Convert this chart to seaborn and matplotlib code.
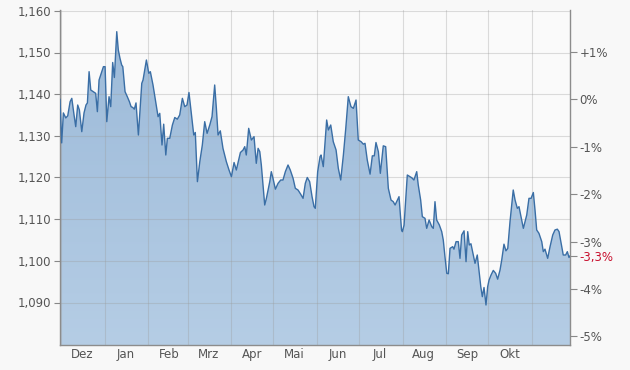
import numpy as np
import pandas as pd
import matplotlib
matplotlib.use("Agg")
import matplotlib.pyplot as plt
import matplotlib.dates as mdates
from matplotlib.colors import LinearSegmentedColormap
import seaborn as sns

sns.set_theme(style="white")
plt.rcParams["font.family"] = ["DejaVu Sans"]

# ---------------- data ----------------
start_date = "2018-11-28"
day_offset = [
    2.1, 3.3, 4.5, 6.2, 7.6, 9.3, 10.5, 12.1, 13.3, 14.7, 15.9, 17.6, 19.2, 20.6, 21.6, 22.8,
    24.0, 25.8, 27.5, 28.7, 29.9, 31.8, 33.0, 34.2, 35.4, 37.0, 38.2, 39.6, 40.8, 42.5, 43.6,
    44.8, 46.0, 46.8, 48.4, 50.0, 51.5, 52.7, 53.9, 55.0, 56.2, 57.9, 60.3,
    61.2, 63.6, 65.3, 66.4, 68.3, 70.2, 71.9, 73.1, 74.7, 75.9, 77.4, 78.5, 80.2, 82.1, 83.8,
    85.6, 87.3, 89.2, 90.9, 92.5, 93.9, 95.6, 97.3, 98.4, 99.9, 101.6, 103.4, 105.1, 106.8,
    108.7, 110.3, 112.2, 113.4, 114.6, 116.2, 118.1, 120.5, 122.4, 124.1,
    126.0, 127.6, 130.5, 132.4, 133.6, 134.7, 136.4, 138.3, 140.2, 141.8, 143.1, 144.3, 145.4,
    147.8, 149.0, 151.4, 152.5, 153.7, 155.4, 157.3, 159.2, 160.8, 162.5, 164.4, 166.0, 168.0,
    169.6, 171.5, 173.4, 175.1, 176.7, 178.1, 179.8, 181.5, 182.9, 183.8,
    185.5, 187.2, 187.9, 189.5, 191.9, 193.1, 194.8, 196.6, 198.6, 200.2, 201.9, 203.8, 205.5,
    207.3, 209.2, 210.9, 212.8, 214.4, 216.4, 218.0, 219.2, 220.8, 222.8, 224.4, 225.8, 227.0,
    228.7, 230.1, 232.2, 233.9, 235.8, 237.7, 239.3, 240.6, 242.5, 243.4, 245.2, 245.8, 247.0,
    249.3, 251.2, 252.6, 254.0, 256.0, 257.1, 258.8, 260.0, 261.9, 263.1, 264.8, 266.7, 267.8,
    269.0, 270.2, 272.1, 273.8, 274.9, 276.1, 277.4, 278.5, 279.7, 281.6, 282.5, 284.0, 285.6,
    286.8, 288.0, 289.7, 291.1, 292.3, 293.4, 294.6, 296.3, 297.5, 299.1, 300.3, 301.6, 302.7,
    303.9, 305.3,
    306.5, 307.5, 308.9, 310.5, 312.2, 313.6, 315.3, 316.5, 318.1, 319.5, 320.8, 322.4, 323.6,
    324.7, 326.0, 327.6, 328.8, 330.2, 331.9, 333.1, 334.3, 335.9, 337.4, 339.0, 340.2, 341.4,
    343.0, 345.0, 346.1, 347.3, 349.2, 350.9, 352.8, 354.4, 356.1, 357.3, 359.2, 360.3, 362.0,
    363.2, 364.4, 365.1,
]
rate = [
    1.1388, 1.1283, 1.1355, 1.1343, 1.1348, 1.1382, 1.1390, 1.1350, 1.1322, 1.1374, 1.1362,
    1.1310, 1.1355, 1.1374, 1.1379, 1.1454, 1.1410, 1.1406, 1.1402, 1.1358, 1.1434, 1.1454,
    1.1466, 1.1466, 1.1334, 1.1394, 1.1370, 1.1476, 1.1440, 1.1550, 1.1506, 1.1486, 1.1470,
    1.1466, 1.1406, 1.1394, 1.1382, 1.1370, 1.1368, 1.1364, 1.1379, 1.1302, 1.1426,
    1.1434, 1.1482, 1.1450, 1.1454, 1.1422, 1.1382, 1.1346, 1.1354, 1.1278, 1.1328, 1.1254,
    1.1294, 1.1294, 1.1326, 1.1344, 1.1340, 1.1350, 1.1390, 1.1370, 1.1374, 1.1404, 1.1354,
    1.1302, 1.1308, 1.1190, 1.1238, 1.1278, 1.1334, 1.1306, 1.1326, 1.1346, 1.1422, 1.1366,
    1.1302, 1.1312, 1.1270, 1.1238, 1.1218, 1.1202,
    1.1236, 1.1218, 1.1260, 1.1266, 1.1274, 1.1254, 1.1318, 1.1290, 1.1298, 1.1234, 1.1270,
    1.1262, 1.1230, 1.1134, 1.1150, 1.1190, 1.1214, 1.1198, 1.1172, 1.1186, 1.1194, 1.1194,
    1.1214, 1.1230, 1.1218, 1.1198, 1.1174, 1.1170, 1.1160, 1.1150, 1.1186, 1.1200, 1.1190,
    1.1154, 1.1130, 1.1126,
    1.1214, 1.1250, 1.1254, 1.1226, 1.1338, 1.1314, 1.1326, 1.1286, 1.1266, 1.1222, 1.1194,
    1.1254, 1.1318, 1.1394, 1.1370, 1.1366, 1.1386, 1.1290, 1.1286, 1.1280, 1.1282, 1.1242,
    1.1208, 1.1252, 1.1252, 1.1284, 1.1262, 1.1210, 1.1276, 1.1274, 1.1174, 1.1146, 1.1142,
    1.1134, 1.1148, 1.1154, 1.1074, 1.1070, 1.1086,
    1.1206, 1.1202, 1.1199, 1.1194, 1.1214, 1.1182, 1.1146, 1.1106, 1.1102, 1.1078, 1.1098,
    1.1082, 1.1078, 1.1142, 1.1098, 1.1086, 1.1070, 1.1050, 1.1010, 1.0970, 1.0969, 1.1030,
    1.1034, 1.1028, 1.1046, 1.1046, 1.1006, 1.1062, 1.1072, 1.0998, 1.1070, 1.1038, 1.1041,
    1.1014, 1.0994, 1.1014, 1.0978, 1.0938, 1.0914, 1.0936, 1.0894,
    1.0938, 1.0954, 1.0966, 1.0977, 1.0970, 1.0956, 1.0978, 1.1002, 1.1040, 1.1024, 1.1030,
    1.1094, 1.1134, 1.1170, 1.1146, 1.1126, 1.1130, 1.1106, 1.1078, 1.1094, 1.1110, 1.1150,
    1.1150, 1.1164, 1.1122, 1.1074, 1.1066, 1.1046, 1.1022, 1.1028, 1.1006, 1.1034, 1.1062,
    1.1074, 1.1076, 1.1070, 1.1034, 1.1014, 1.1014, 1.1022, 1.1008, 1.1012,
]
month_labels = ["Dez", "Jan", "Feb", "Mrz", "Apr", "Mai", "Jun", "Jul", "Aug", "Sep", "Okt"]
left_ticks = [1.09, 1.10, 1.11, 1.12, 1.13, 1.14, 1.15, 1.16]
pct_ticks = [1, 0, -1, -2, -3, -4, -5]

# ---------------- figure ----------------
dates = pd.Timestamp(start_date) + pd.to_timedelta(day_offset, unit="D")
df = pd.DataFrame({"date": dates, "rate": rate})

W, H = 630, 370
fig = plt.figure(figsize=(W / 100, H / 100), dpi=100, facecolor="#f8f8f8")
ax = fig.add_axes([60 / W, 25 / H, 510 / W, 335 / H])
ax.set_facecolor("#fafafa")

ymin, ymax = 1.0798, 1.1602
xmin, xmax = df["date"].iloc[0], df["date"].iloc[-1]

# gradient area fill
poly = ax.fill_between(df["date"], df["rate"], ymin, color="none", lw=0)
cmap = LinearSegmentedColormap.from_list("g", ["#b5cde5", "#9bb9d8"])
grad = np.linspace(0, 1, 256).reshape(-1, 1)
im = ax.imshow(grad, cmap=cmap, origin="lower", aspect="auto",
               extent=[mdates.date2num(xmin), mdates.date2num(xmax), ymin, ymax], zorder=1)
im.set_clip_path(poly.get_paths()[0], transform=ax.transData)

sns.lineplot(data=df, x="date", y="rate", ax=ax, color="#3a6ea5", lw=1.0, zorder=4)

ax.set_xlim(xmin, xmax)
ax.set_ylim(ymin, ymax)

# grid and ticks
ax.set_axisbelow(False)
ax.xaxis.set_major_locator(mdates.MonthLocator())
ax.xaxis.set_major_formatter(plt.NullFormatter())
first_month = pd.Timestamp(start_date) + pd.offsets.MonthBegin(1)
mids = pd.date_range(first_month, periods=len(month_labels), freq="MS") + pd.Timedelta(days=15)
ax.set_xticks(mids, labels=month_labels, minor=True)
ax.tick_params(axis="x", which="both", length=0, labelsize=8.5, colors="#555555", pad=2)
ax.set_yticks(left_ticks, labels=[f"{v:.3f}".replace(".", ",") for v in left_ticks])
ax.tick_params(axis="y", length=4, width=0.8, color="#888888", labelsize=8.5,
               labelcolor="#555555", pad=2)
ax.grid(True, which="major", color="#9a9a9a", alpha=0.33, lw=0.8)
ax.set_xlabel("")
ax.set_ylabel("")

ax.spines["top"].set_visible(False)
for s in ["left", "bottom", "right"]:
    ax.spines[s].set_color("#8c8c8c")
    ax.spines[s].set_linewidth(1.0)

# right percentage axis
base = rate[0]
last = rate[-1]
pct_last = (last / base - 1) * 100
ax2 = ax.twinx()
ax2.set_ylim(ymin, ymax)
rvals = [base * (1 + p / 100) for p in pct_ticks] + [last]
rlabels = [("+" if p > 0 else "") + f"{p}%" for p in pct_ticks] + [f"{pct_last:.1f}%".replace(".", ",")]
ax2.set_yticks(rvals, labels=rlabels)
ax2.tick_params(axis="y", length=5, width=0.8, color="#888888", labelsize=8.5,
                labelcolor="#555555", pad=2)
red = "#c8102e"
ax2.get_yticklabels()[-1].set_color(red)
ax2.yaxis.get_major_ticks()[-1].tick2line.set_color(red)
for s in ax2.spines.values():
    s.set_visible(False)
ax2.grid(False)

fig.savefig("out.png", dpi=100, facecolor=fig.get_facecolor())
